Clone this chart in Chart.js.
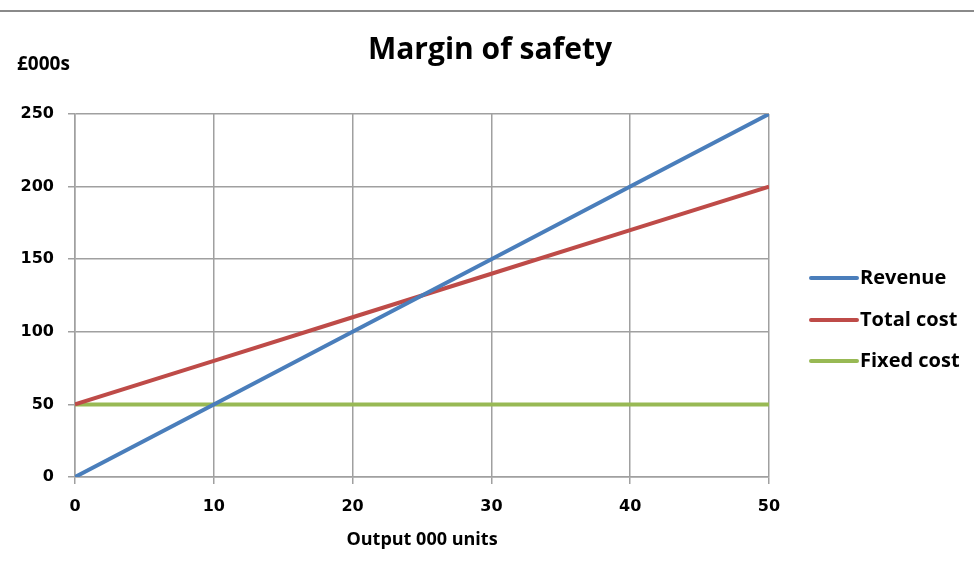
<!DOCTYPE html>
<html>
<head>
<meta charset="utf-8">
<title>Margin of safety</title>
<script src="https://cdn.jsdelivr.net/npm/chart.js@4.4.1/dist/chart.umd.min.js"></script>
<style>
  html, body { margin: 0; padding: 0; background: #fff; }
  #wrap { width: 974px; height: 563px; position: relative; }
</style>
</head>
<body>
<div id="wrap"><canvas id="mosChart" width="974" height="563"></canvas></div>
<script>
// output in 000 units, values in £000s
const output = [0, 10, 20, 30, 40, 50];
const revenue = [0, 50, 100, 150, 200, 250];
const totalCost = [50, 80, 110, 140, 170, 200];
const fixedCost = [50, 50, 50, 50, 50, 50];

const seriesNames = ["Revenue", "Total cost", "Fixed cost"];
const seriesColors = ["#4a7ebb", "#be4b48", "#98b954"];

const gridColor = "#a0a0a0";

function toPoints(values) {
    return output.map((x, i) => ({ x: x, y: values[i] }));
}

// draws the rule at the top, the title, the "£000s" label and the legend
const extras = {
    id: "extras",
    afterDraw(chart) {
        const ctx = chart.ctx;
        ctx.save();
        ctx.strokeStyle = "#8a8a8a";
        ctx.lineWidth = 2;
        ctx.beginPath();
        ctx.moveTo(0, 11);
        ctx.lineTo(974, 11);
        ctx.stroke();

        ctx.fillStyle = "#000";
        ctx.textBaseline = "middle";
        ctx.textAlign = "center";
        ctx.font = "bold 30px 'Open Sans'";
        ctx.fillText("Margin of safety", 490, 50);

        ctx.textAlign = "left";
        ctx.font = "bold 19px 'Open Sans'";
        ctx.fillText("£000s", 17, 65);

        const rows = [278, 320, 361];
        ctx.font = "bold 20px 'Open Sans'";
        chart.data.datasets.forEach((ds, i) => {
            ctx.strokeStyle = ds.borderColor;
            ctx.lineWidth = 4;
            ctx.lineCap = "round";
            ctx.beginPath();
            ctx.moveTo(811, rows[i]);
            ctx.lineTo(857, rows[i]);
            ctx.stroke();
            ctx.fillText(ds.label, 860, rows[i]);
        });
        ctx.restore();
    }
};

new Chart(document.getElementById("mosChart").getContext("2d"), {
    type: "line",
    data: {
        datasets: [
            { label: seriesNames[0], data: toPoints(revenue), borderColor: seriesColors[0] },
            { label: seriesNames[1], data: toPoints(totalCost), borderColor: seriesColors[1] },
            { label: seriesNames[2], data: toPoints(fixedCost), borderColor: seriesColors[2] },
        ],
    },
    options: {
        responsive: false,
        animation: false,
        events: [],
        layout: { padding: { top: 114, right: 205, bottom: 0, left: 0 } },
        elements: {
            line: { borderWidth: 4, tension: 0, fill: false },
            point: { radius: 0 },
        },
        plugins: {
            legend: { display: false },
            tooltip: { enabled: false },
            title: { display: false },
        },
        scales: {
            x: {
                type: "linear",
                min: 0,
                max: 50,
                ticks: {
                    stepSize: 10,
                    color: "#000",
                    padding: 13,
                    font: { family: "'DejaVu Sans'", size: 16, weight: "bold" },
                },
                grid: { color: gridColor, lineWidth: 1.5, tickLength: 7 },
                border: { color: gridColor, width: 1.5 },
                title: {
                    display: true,
                    text: "Output 000 units",
                    color: "#000",
                    font: { family: "'Open Sans'", size: 18, weight: "bold" },
                    padding: { top: 0, bottom: 12 },
                },
                afterFit(scale) { scale.height = 86; },
            },
            y: {
                min: 0,
                max: 250,
                ticks: {
                    stepSize: 50,
                    color: "#000",
                    padding: 14,
                    font: { family: "'DejaVu Sans'", size: 16, weight: "bold" },
                },
                grid: { color: gridColor, lineWidth: 1.5, tickLength: 7 },
                border: { color: gridColor, width: 1.5 },
                afterFit(scale) { scale.width = 75; },
            },
        },
    },
    plugins: [extras],
});
</script>
</body>
</html>
